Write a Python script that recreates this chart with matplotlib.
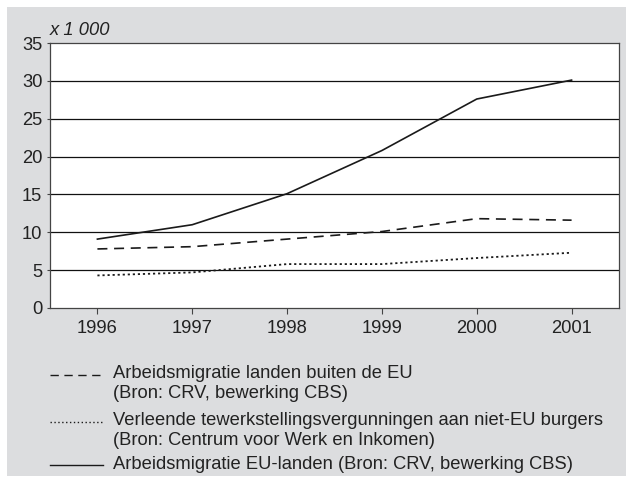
import matplotlib
matplotlib.use("Agg")
import matplotlib.pyplot as plt
from matplotlib.patches import Rectangle
from matplotlib.lines import Line2D

plt.rcParams['font.family'] = ['Liberation Sans', 'DejaVu Sans']

years = [1996, 1997, 1998, 1999, 2000, 2001]
eu_landen = [9.1, 11.0, 15.1, 20.8, 27.6, 30.1]
buiten_eu = [7.8, 8.1, 9.1, 10.1, 11.8, 11.6]
vergunningen = [4.3, 4.7, 5.8, 5.8, 6.6, 7.3]
yticks = [0, 5, 10, 15, 20, 25, 30, 35]

legend_lines = [
    ["Arbeidsmigratie landen buiten de EU", "(Bron: CRV, bewerking CBS)"],
    ["Verleende tewerkstellingsvergunningen aan niet-EU burgers", "(Bron: Centrum voor Werk en Inkomen)"],
    ["Arbeidsmigratie EU-landen (Bron: CRV, bewerking CBS)"],
]

W, H = 626, 482
fs = 13.2
fig = plt.figure(figsize=(W / 100, H / 100), dpi=100)
fig.patch.set_facecolor('white')
bg = '#dcdddf'
fig.patches.append(Rectangle((7 / W, 1 - 476 / H), 1 - 7 / W, (476 - 7) / H,
                             transform=fig.transFigure, facecolor=bg, edgecolor='none', zorder=-10))

ax = fig.add_axes([50 / W, 1 - 308 / H, (619 - 50) / W, (308 - 43) / H])
ax.set_zorder(5)
ax.set_facecolor('white')
txt = '#222222'
spine_c = '#444444'

ax.set_xlim(1995.5, 2001.5)
ax.set_ylim(0, 35)
ax.set_yticks(yticks)
ax.set_xticks(years)
ax.set_xticklabels([str(y) for y in years])
for yv in yticks[1:-1]:
    ax.axhline(yv, color='#111111', lw=0.9, zorder=1)

ax.plot(years, eu_landen, color='#1a1a1a', lw=1.2, zorder=3)
ax.plot(years, buiten_eu, color='#1a1a1a', lw=1.2, dashes=(6, 4), zorder=3)
ax.plot(years, vergunningen, color='#1a1a1a', lw=1.3, dashes=(1.2, 1.6), zorder=3)

for s in ax.spines.values():
    s.set_color(spine_c)
    s.set_linewidth(0.9)
ax.tick_params(axis='x', length=4, width=0.8, color=spine_c, labelsize=fs, labelcolor=txt, pad=4.5)
ax.tick_params(axis='y', length=2, width=0.8, color=spine_c, labelsize=fs, labelcolor=txt, pad=3.5)

fig.text(50 / W, 1 - 35 / H, "x 1 000", style='italic', fontsize=fs, color=txt, va='baseline', ha='left')

# Legend
styles = [dict(dashes=(6, 4)), dict(dashes=(1.0, 1.8)), dict()]
sample_y = [375, 422, 465]
baselines = [[378, 398], [425, 445], [469]]
for st, labs, yy, bls in zip(styles, legend_lines, sample_y, baselines):
    fig.lines.append(Line2D([50 / W, 103 / W], [1 - yy / H, 1 - yy / H], transform=fig.transFigure,
                            color='#1a1a1a', lw=1.0, **st))
    for lab, bl in zip(labs, bls):
        fig.text(113 / W, 1 - bl / H, lab, fontsize=fs, color=txt, va='baseline', ha='left')

fig.savefig('out.png', dpi=100, facecolor=fig.get_facecolor())
